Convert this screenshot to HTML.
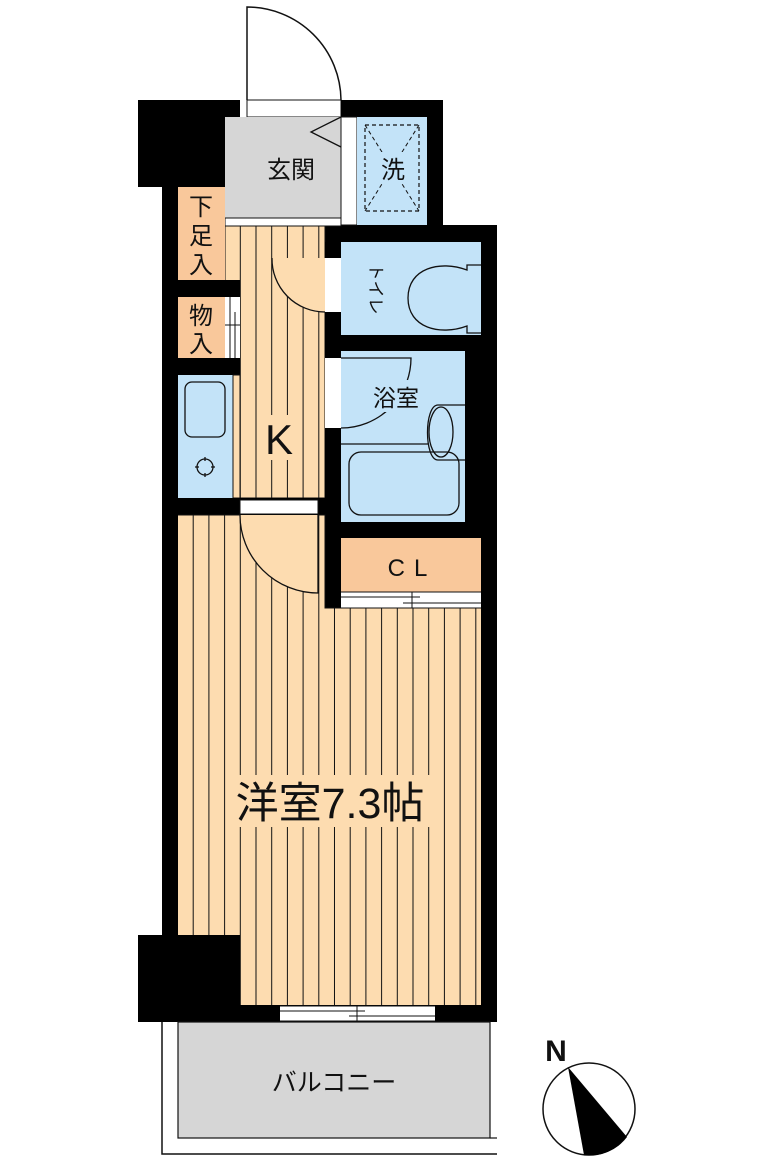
<!DOCTYPE html>
<html><head><meta charset="utf-8"><style>
html,body{margin:0;padding:0;background:#fff;}
svg{display:block;}
text{font-family:"Liberation Sans","Noto Sans CJK JP",sans-serif;fill:#111;}
</style></head><body>
<svg width="774" height="1164" viewBox="0 0 774 1164" xmlns="http://www.w3.org/2000/svg">
<defs>
<pattern id="st" x="178" y="0" width="15.7" height="20" patternUnits="userSpaceOnUse">
<rect width="15.7" height="20" fill="#fddcb0"/>
<rect x="14.7" width="1.3" height="20" fill="#111"/>
</pattern>
</defs>
<path d="M247,100 V7 A94,94 0 0 1 341,100" fill="none" stroke="#111" stroke-width="1.5"/>
<rect x="247" y="100" width="94" height="17" fill="#fff" stroke="#111" stroke-width="1"/>
<rect x="138" y="100" width="102" height="87" fill="#000"/>
<rect x="341" y="100" width="102" height="17" fill="#000"/>
<rect x="427" y="100" width="16" height="142" fill="#000"/>
<rect x="325" y="225" width="172" height="17" fill="#000"/>
<rect x="481" y="225" width="16" height="797" fill="#000"/>
<rect x="162" y="187" width="16" height="760" fill="#000"/>
<rect x="138" y="935" width="102" height="87" fill="#000"/>
<rect x="138" y="1005" width="359" height="17" fill="#000"/>
<rect x="225" y="117" width="116" height="101" fill="#d6d6d6"/>
<rect x="225" y="218" width="116" height="8" fill="#fff" stroke="#111" stroke-width="1"/>
<path d="M341,117 L311,132 L341,147" fill="none" stroke="#111" stroke-width="1.3"/>
<rect x="341" y="117" width="16" height="108" fill="#fff" stroke="#111" stroke-width="1"/>
<text x="291" y="178" font-size="24" text-anchor="middle">玄関</text>
<rect x="357" y="117" width="70" height="108" fill="#c3e3f8"/>
<rect x="365" y="125" width="54" height="86" fill="none" stroke="#111" stroke-width="1.2" stroke-dasharray="4,3"/>
<path d="M365,125 L419,211 M419,125 L365,211" stroke="#111" stroke-width="1" stroke-dasharray="4,3"/>
<rect x="379" y="152" width="28" height="32" fill="#c3e3f8"/>
<text x="393" y="178" font-size="24" text-anchor="middle">洗</text>
<rect x="225" y="226" width="100" height="272" fill="url(#st)"/>
<rect x="225" y="226" width="100" height="272" fill="none" stroke="#111" stroke-width="1"/>
<path d="M325,258 L272,258 A53,53 0 0 0 325,312 Z" fill="#fddcb0"/>
<path d="M272,258 A53,53 0 0 0 325,312" fill="none" stroke="#111" stroke-width="1.3"/>
<rect x="178" y="187" width="47" height="93" fill="#f9c89b"/>
<text x="201" y="215" font-size="24" text-anchor="middle">下</text>
<text x="201" y="244" font-size="24" text-anchor="middle">足</text>
<text x="201" y="273" font-size="24" text-anchor="middle">入</text>
<rect x="178" y="280" width="62" height="17" fill="#000"/>
<rect x="178" y="297" width="47" height="61" fill="#f9c89b"/>
<rect x="225" y="297" width="15" height="61" fill="#fff"/>
<path d="M230,297 V358 M235,312 V358 M225,325 H240" stroke="#111" stroke-width="1"/>
<text x="201" y="324" font-size="24" text-anchor="middle">物</text>
<text x="201" y="352" font-size="24" text-anchor="middle">入</text>
<rect x="178" y="358" width="62" height="17" fill="#000"/>
<rect x="178" y="375" width="55" height="123" fill="#c3e3f8"/>
<rect x="233" y="375" width="7" height="123" fill="#fddcb0" stroke="#111" stroke-width="1"/>
<rect x="185" y="382" width="40" height="55" rx="7" fill="none" stroke="#111" stroke-width="1.3"/>
<circle cx="205" cy="467" r="8" fill="none" stroke="#111" stroke-width="1.3"/>
<path d="M195,467 H199 M211,467 H215 M205,457 V461 M205,473 V477" stroke="#111" stroke-width="1.3"/>
<rect x="178" y="498" width="147" height="17" fill="#000"/>
<rect x="240" y="500" width="78" height="14" fill="#fff" stroke="#111" stroke-width="1"/>
<rect x="325" y="242" width="17" height="366" fill="#000"/>
<rect x="325" y="258" width="16" height="54" fill="#fff"/>
<rect x="325" y="358" width="16" height="70" fill="#fff"/>
<rect x="262" y="415" width="38" height="45" fill="#fddcb0"/>
<text x="279" y="454" font-size="42" text-anchor="middle">K</text>
<rect x="341" y="242" width="140" height="93" fill="#c3e3f8"/>
<path d="M481,265 H467 V270 C440,260 408,268 408,298 C408,328 440,336 467,326 V333 H481" fill="none" stroke="#111" stroke-width="1.3"/>
<text x="370" y="289" font-size="17" text-anchor="middle" transform="rotate(90 370 289)">トイレ</text>
<rect x="341" y="335" width="140" height="16" fill="#000"/>
<rect x="341" y="351" width="124" height="171" fill="#c3e3f8"/>
<path d="M341,428 A70,70 0 0 0 411,358 H341" fill="none" stroke="#111" stroke-width="1.3"/>
<path d="M341,444 H428 M465,405 H438 C424,405 424,460 438,460 H465" fill="none" stroke="#111" stroke-width="1.3"/>
<ellipse cx="441" cy="432" rx="12" ry="25" fill="none" stroke="#111" stroke-width="1.3"/>
<rect x="349" y="452" width="110" height="63" rx="12" fill="none" stroke="#111" stroke-width="1.3"/>
<rect x="370" y="380" width="56" height="32" fill="#c3e3f8"/>
<text x="396" y="406" font-size="23" text-anchor="middle">浴室</text>
<rect x="465" y="351" width="16" height="171" fill="#000"/>
<rect x="341" y="522" width="156" height="16" fill="#000"/>
<rect x="341" y="538" width="140" height="54" fill="#f9c89b"/>
<text x="412" y="576" font-size="24" text-anchor="middle" letter-spacing="9">CL</text>
<rect x="341" y="592" width="140" height="16" fill="#fff"/>
<path d="M341,597 H420 M403,603 H481 M341,592 H481 M341,608 H481 M412,592 V608" stroke="#111" stroke-width="1"/>
<path d="M178,515 H325 V608 H481 V1005 H240 V935 H178 Z" fill="url(#st)"/>
<path d="M178,515 H240 M318,515 H325 V608 H481" fill="none" stroke="#111" stroke-width="1"/>
<path d="M240,515 A78,78 0 0 0 318,593 V515 Z" fill="#fddcb0"/>
<path d="M240,515 A78,78 0 0 0 318,593 V515" fill="none" stroke="#111" stroke-width="1.3"/>
<rect x="228" y="775" width="205" height="52" fill="#fddcb0"/>
<text x="330" y="818" font-size="43" text-anchor="middle">洋室7.3帖</text>
<rect x="280" y="1006" width="155" height="15" fill="#fff"/>
<path d="M280,1011 H365 M349,1016 H435 M357,1006 V1021 M280,1006 H435 M280,1021 H435" stroke="#111" stroke-width="1"/>
<path d="M162,1022 V1154 H497" fill="none" stroke="#111" stroke-width="1.5"/>
<rect x="178" y="1022" width="312" height="116" fill="#d6d6d6" stroke="#111" stroke-width="1.2"/>
<path d="M490,1138 H497" stroke="#111" stroke-width="1.2"/>
<text x="334" y="1091" font-size="25" text-anchor="middle">バルコニー</text>
<text x="556" y="1061" font-size="30" font-weight="bold" text-anchor="middle" style="font-family:'Liberation Sans',sans-serif">N</text>
<circle cx="589" cy="1109" r="46" fill="#fff" stroke="#111" stroke-width="1.5"/>
<path d="M568,1067 L627,1137 A46,46 0 0 1 584,1155 Z" fill="#000"/>
</svg>
</body></html>
